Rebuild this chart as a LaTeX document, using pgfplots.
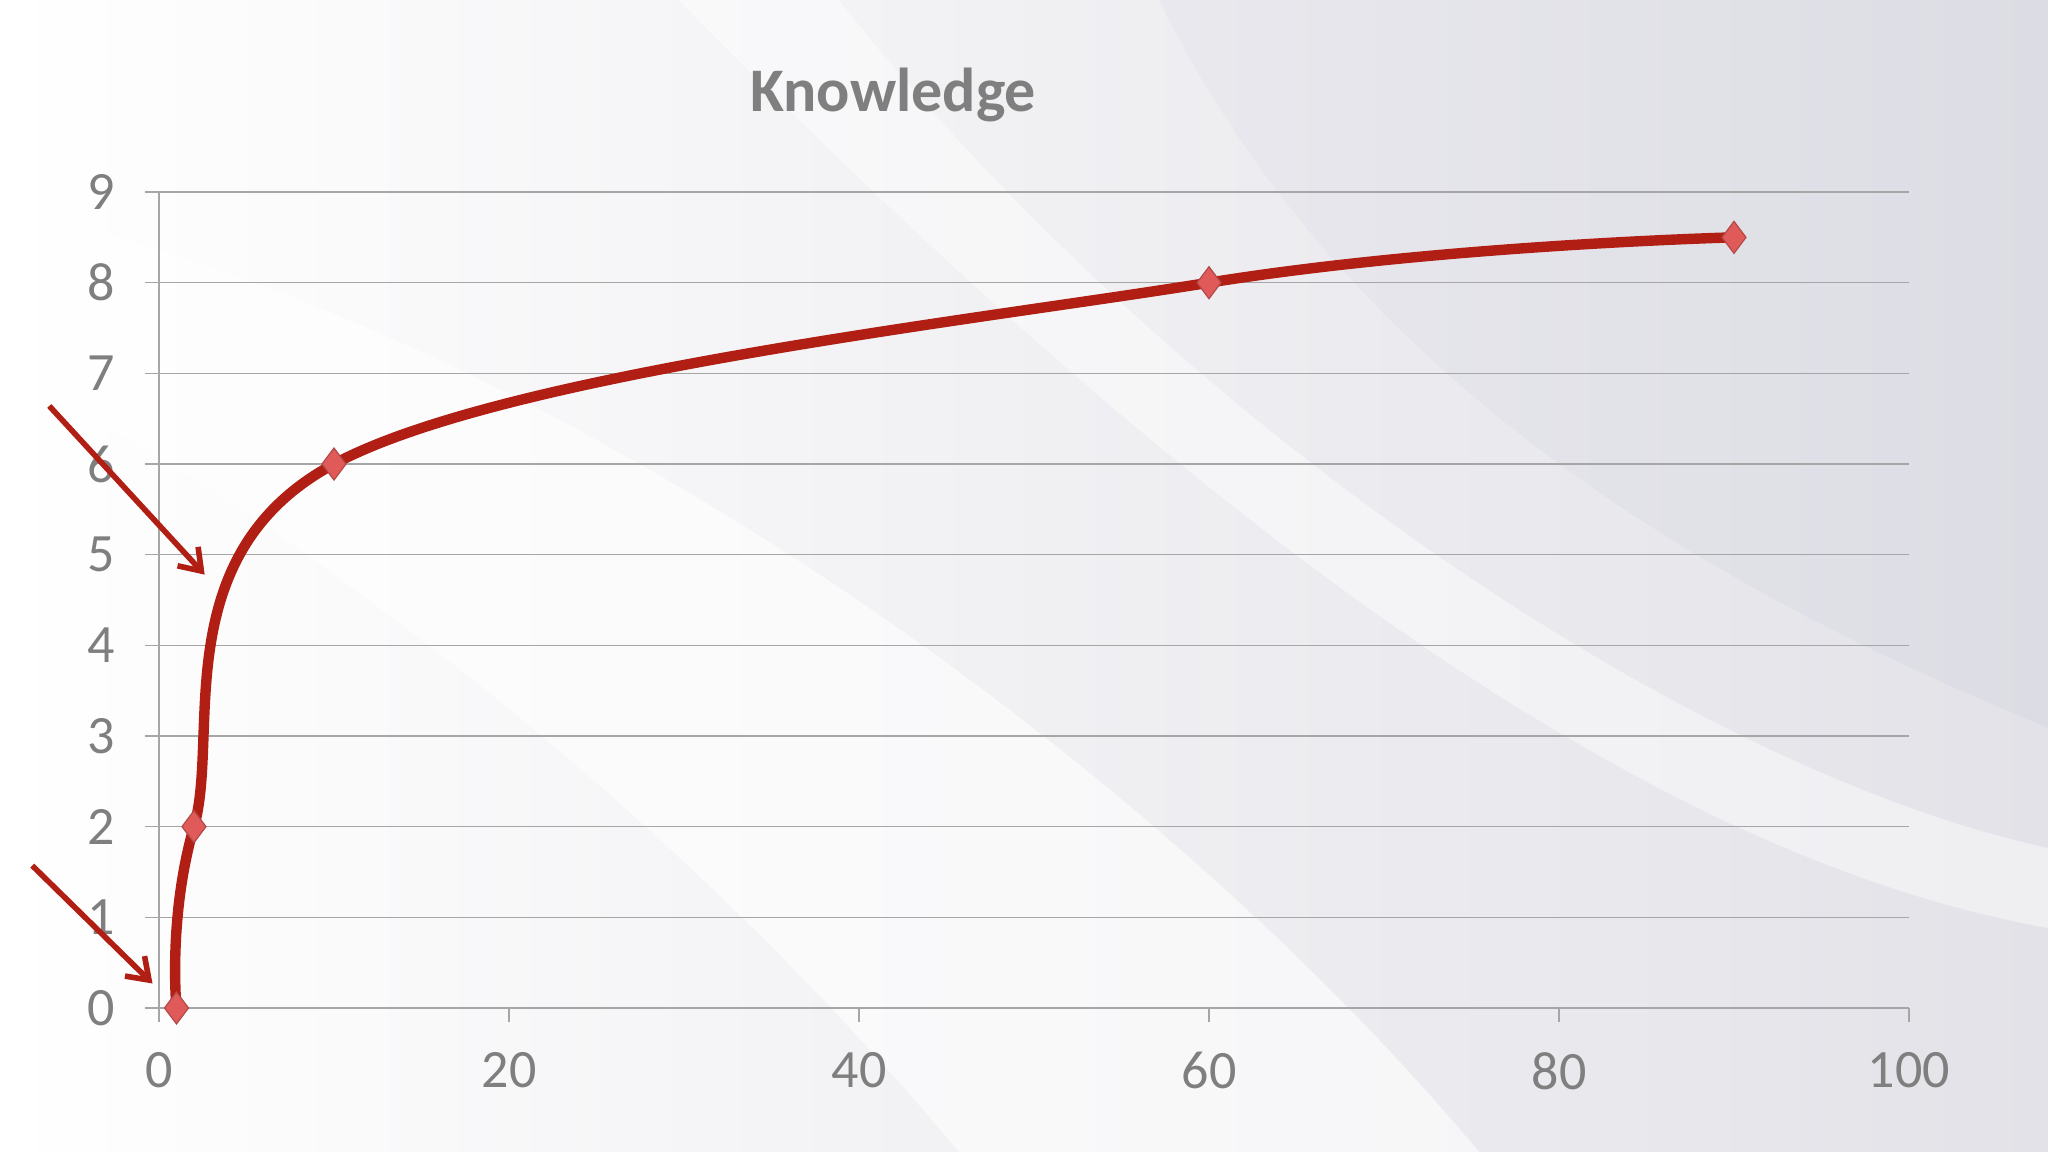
\documentclass[border=0pt]{standalone}
\usepackage{pgfplots}
\pgfplotsset{compat=1.18}
\usepackage{fontspec}
\setmainfont{Carlito}
\usetikzlibrary{arrows.meta}

\definecolor{linered}{HTML}{B01E14}
\definecolor{markred}{HTML}{E05A5A}
\definecolor{gridgrey}{HTML}{A6A6A6}
\definecolor{textgrey}{HTML}{7F7F7F}
\definecolor{bggrey}{HTML}{E2E2E8}

\begin{document}
\begin{tikzpicture}
% slide background, 512pt x 288pt
\shade[left color=white, right color=bggrey] (-39.75pt,-36pt) rectangle (472.25pt,252pt);
\fill[white, opacity=0.6] (-39.75pt,200pt) .. controls (100pt,170pt) and (250pt,60pt) .. (330pt,-36pt) -- (200pt,-36pt) .. controls (120pt,60pt) and (20pt,130pt) .. (-39.75pt,160pt) -- cycle;
\fill[white, opacity=0.45] (170pt,252pt) .. controls (250pt,150pt) and (380pt,60pt) .. (472.25pt,40pt) -- (472.25pt,20pt) .. controls (360pt,40pt) and (240pt,140pt) .. (130pt,252pt) -- cycle;
\fill[black!60!blue, opacity=0.025] (250pt,252pt) .. controls (300pt,150pt) and (400pt,100pt) .. (472.25pt,70pt) -- (472.25pt,252pt) -- cycle;
\begin{axis}[
  at={(0,0)}, anchor=south west,
  scale only axis, width=437.5pt, height=204pt,
  xmin=0, xmax=100, ymin=0, ymax=9,
  xtick={0,20,...,100}, ytick={0,1,...,9},
  axis x line*=bottom, axis y line*=left,
  axis line style={gridgrey, line width=0.4pt, -},
  ymajorgrids, grid style={gridgrey, line width=0.4pt},
  tick style={gridgrey, line width=0.4pt},
  tick align=outside, major tick length=3.5pt,
  ticklabel style={font=\fontsize{13.5}{14}\selectfont, text=textgrey},
  /pgf/number format/assume math mode=true,
  yticklabel style={xshift=-4pt},
  xticklabel style={yshift=-4pt},
  title={\textbf{Knowledge}},
  title style={font=\fontsize{15.5}{17}\selectfont, text=textgrey, at={(0.4195,1)}, anchor=south, yshift=8pt},
  clip=false,
]
\addplot[linered, line width=2.6pt, smooth, tension=0.6,
  mark=diamond*, mark size=4pt,
  mark options={fill=markred, draw=markred!80!black, line width=0.3pt}]
  coordinates {(1,0) (2,2) (10,6) (60,8) (90,8.5)};
\draw[linered, line width=1.4pt, -{Straight Barb[length=5pt,width=7pt]}]
  (axis cs:-6.27,6.64) -- (axis cs:2.61,4.78);
\draw[linered, line width=1.4pt, -{Straight Barb[length=5pt,width=7pt]}]
  (axis cs:-7.24,1.57) -- (axis cs:-0.37,0.27);
\end{axis}
\end{tikzpicture}
\end{document}
